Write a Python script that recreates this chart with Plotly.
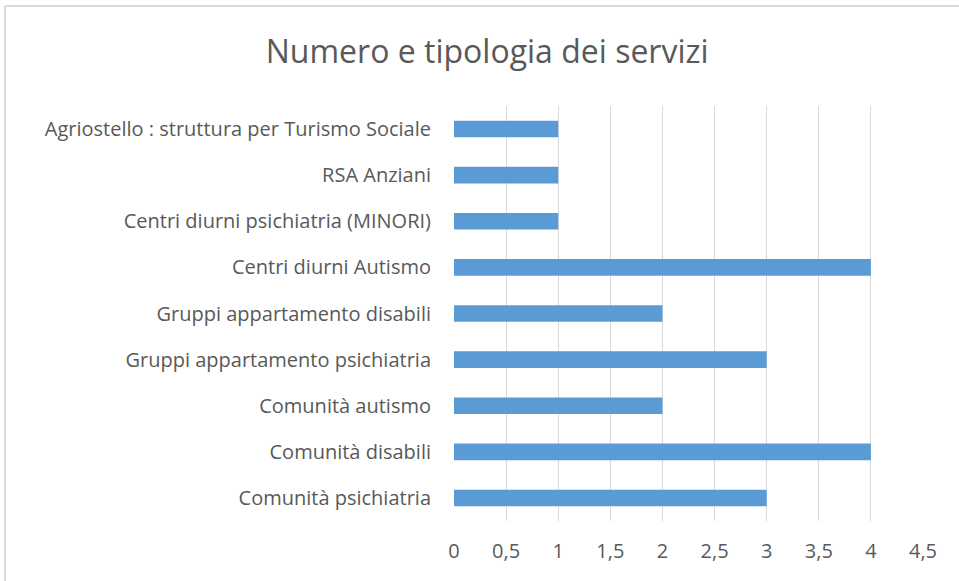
import plotly.graph_objects as go

# categories from bottom to top, as in the chart
categories = [
    "Comunità psichiatria",
    "Comunità disabili",
    "Comunità autismo",
    "Gruppi appartamento psichiatria",
    "Gruppi appartamento disabili",
    "Centri diurni Autismo",
    "Centri diurni psichiatria (MINORI)",
    "RSA Anziani",
    "Agriostello : struttura per Turismo Sociale",
]
counts = [3, 4, 2, 3, 2, 4, 1, 1, 1]
x_ticks = [0, 0.5, 1, 1.5, 2, 2.5, 3, 3.5, 4, 4.5]

FONT = "Open Sans"
GREY = "#595959"

fig = go.Figure()
fig.add_trace(go.Bar(
    x=counts, y=categories, orientation="h",
    marker=dict(color="#5b9bd5", line=dict(width=0)),
    width=0.36,
))

fig.update_layout(
    width=959, height=581,
    margin=dict(l=454, r=36, t=106, b=60),
    paper_bgcolor="white", plot_bgcolor="white",
    separators=",.",
    showlegend=False,
    title=dict(text="Numero e tipologia dei servizi", x=0.508, xanchor="center",
               y=1 - 52 / 581, yanchor="middle",
               font=dict(family=FONT, size=32, color=GREY)),
    font=dict(family=FONT, size=20, color=GREY),
)
fig.update_xaxes(
    range=[0, 4.5], tickvals=x_ticks, showgrid=True, gridcolor="#d9d9d9",
    gridwidth=1, zeroline=False, showline=False, ticks="",
    ticklabelstandoff=16, tickfont=dict(size=20, color=GREY),
)
fig.update_yaxes(
    categoryorder="array", categoryarray=categories,
    showgrid=False, zeroline=False, showline=False, ticks="",
    ticklabelstandoff=22, tickfont=dict(size=20, color=GREY),
)

# light frame of the chart area, visible at top and left
fig.add_shape(type="line", xref="paper", yref="paper",
              x0=(5 - 454) / 469, x1=(5 - 454) / 469,
              y0=(521 - 600) / 415, y1=(521 - 6) / 415,
              line=dict(color="#d9d9d9", width=2))
fig.add_shape(type="line", xref="paper", yref="paper",
              x0=(5 - 454) / 469, x1=(990 - 454) / 469,
              y0=(521 - 6) / 415, y1=(521 - 6) / 415,
              line=dict(color="#d9d9d9", width=2))

# the page adds an 8px body margin; drop it so the figure sits at the corner
fig.write_html("out.html", config={"displayModeBar": False},
               post_script="document.body.style.margin='0';")
